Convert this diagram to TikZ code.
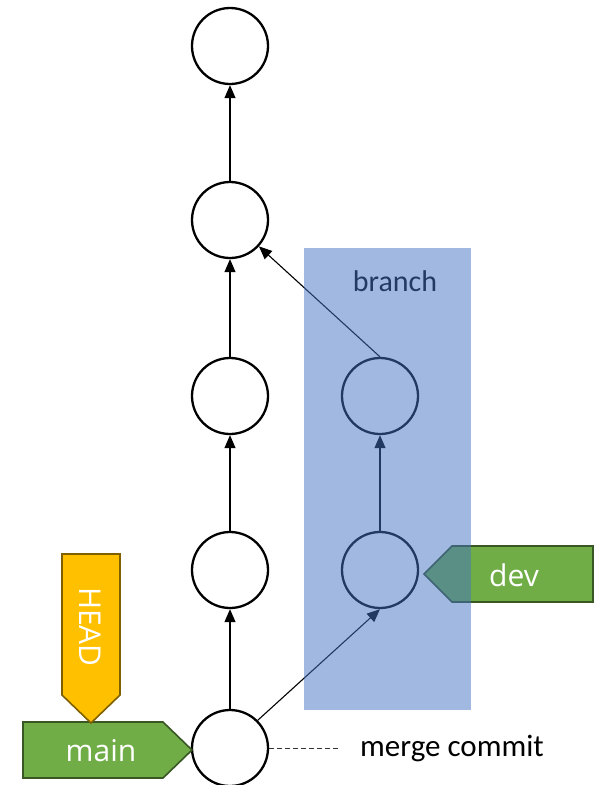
\documentclass[tikz,border=0pt]{standalone}
\usepackage{fontspec}
\setmainfont{Carlito}
\newfontfamily\tagfont{Open Sans}
\usetikzlibrary{arrows.meta}

\definecolor{tagGreen}{HTML}{70AD47}
\definecolor{tagGreenDark}{HTML}{385723}
\definecolor{tagGold}{HTML}{FFC000}
\definecolor{tagGoldDark}{HTML}{7F6000}
\definecolor{areaBlue}{HTML}{4472C4}
\definecolor{areaText}{HTML}{233A62}

\tikzset{
  commit/.style={circle, draw=black, line width=2.3pt, fill=white,
                 minimum size=76pt, inner sep=0pt},
  parentlink/.style={line width=1.1pt, draw=black,
                     -{Triangle[length=13pt,width=11pt]}},
  greentag/.style={fill=tagGreen, draw=tagGreenDark, line width=1.6pt},
  goldtag/.style={fill=tagGold, draw=tagGoldDark, line width=1.6pt},
  tagtext/.style={text=white, font=\tagfont\fontsize{30}{34}\selectfont, inner sep=0pt},
  note/.style={font=\fontsize{31}{34}\selectfont, inner sep=0pt},
}

\begin{document}
\begin{tikzpicture}[x=1pt, y=-1pt]
  \useasboundingbox (0,0) rectangle (602,785);

  % commits on the main line
  \node[commit] (c1) at (230,46) {};
  \node[commit] (c2) at (230,220) {};
  \node[commit] (c3) at (230,396) {};
  \node[commit] (c4) at (230,570) {};
  \node[commit] (c5) at (230,748) {};
  % commits on the side branch
  \node[commit] (d1) at (380,396) {};
  \node[commit] (d2) at (380,570) {};

  % parent links
  \draw[parentlink] (c5.north) -- (c4.south);
  \draw[parentlink] (c4.north) -- (c3.south);
  \draw[parentlink] (c3.north) -- (c2.south);
  \draw[parentlink] (c2.north) -- (c1.south);
  \draw[parentlink] (d2.north) -- (d1.south);
  \draw[parentlink] (d1.north) -- (c2);
  \draw[parentlink] (c5.north east) -- (d2.south);

  % merge commit note
  \node[note, anchor=west] (mergelbl) at (360,748) {merge commit};
  \coordinate (mergeend) at (341,748);
  \draw[dashed, dash pattern=on 5pt off 3pt, line width=1pt, draw=black!80]
    (c5.east) -- (mergeend);

  % dev label pointing at the branch tip
  \draw[greentag] (424,574) -- (452,546) -- (593,546) -- (593,602) -- (452,602) -- cycle;
  \node[tagtext] (devlbl) at (514,575) {dev};

  % main label pointing at the merge commit
  \draw[greentag] (23,722) -- (163,722) -- (192,750) -- (163,778) -- (23,778) -- cycle;
  \node[tagtext] (mainlbl) at (101,751) {main};

  % HEAD label pointing at main
  \draw[goldtag] (62,554) -- (120,554) -- (120,695) -- (91,723) -- (62,695) -- cycle;
  \node[tagtext, rotate=-90] (headlbl) at (90,627) {HEAD};

  % translucent area marking the branch
  \fill[areaBlue, fill opacity=0.5] (304,248) rectangle (471,710);
  \node[note, text=areaText, font=\fontsize{30}{34}\selectfont] (branchlbl) at (395,281) {branch};
\end{tikzpicture}
\end{document}
